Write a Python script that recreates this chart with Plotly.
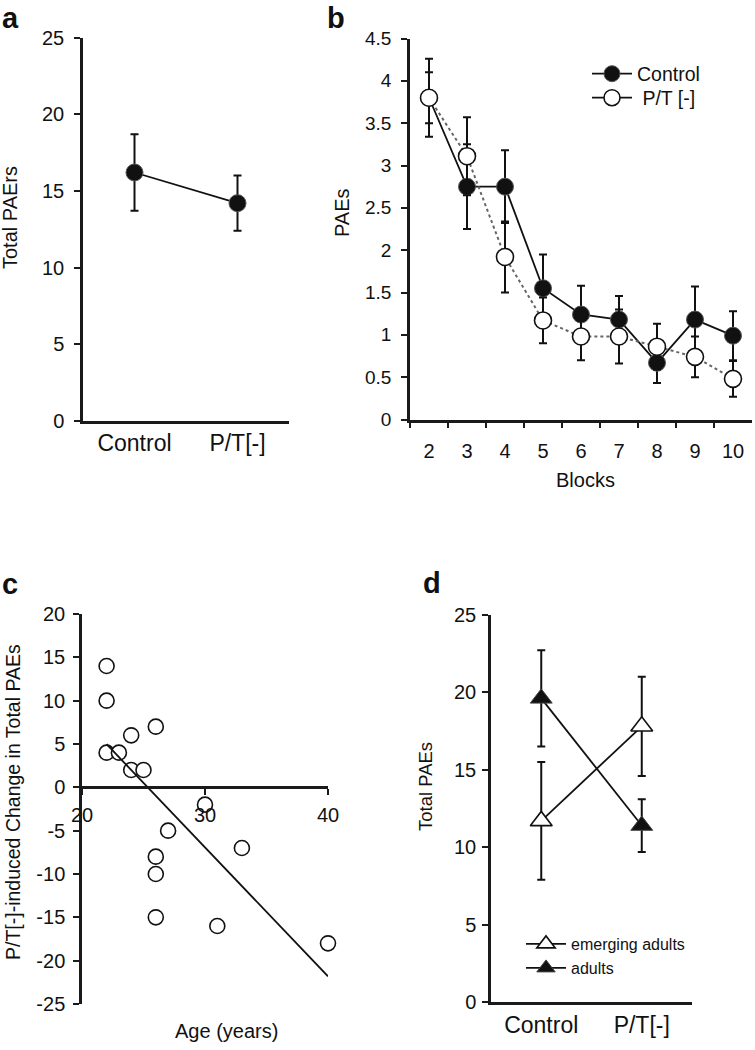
import numpy as np
import plotly.graph_objects as go

W, H = 755, 1050
FONT = "Liberation Sans, Arial, sans-serif"

# ---------------- data ----------------
# panel a
a_groups = ["Control", "P/T[-]"]
a_means = [16.2, 14.2]
a_err = [2.5, 1.8]

# panel b
blocks = ["2", "3", "4", "5", "6", "7", "8", "9", "10"]
b_control = [3.8, 2.75, 2.75, 1.55, 1.24, 1.18, 0.67, 1.18, 0.99]
b_control_err = [0.46, 0.5, 0.43, 0.4, 0.34, 0.28, 0.24, 0.39, 0.29]
b_pt = [3.8, 3.11, 1.92, 1.17, 0.98, 0.98, 0.86, 0.74, 0.48]
b_pt_err = [0.3, 0.46, 0.42, 0.27, 0.28, 0.32, 0.27, 0.24, 0.21]

# panel c
c_age = [22, 22, 22, 23, 24, 24, 25, 26, 30, 27, 26, 26, 26, 33, 31, 40]
c_change = [14, 10, 4, 4, 6, 2, 2, 7, -2, -5, -8, -10, -15, -7, -16, -18]
c_yticks = [-25, -20, -15, -10, -5, 0, 5, 10, 15, 20]
c_xticks = [20, 30, 40]

# panel d
d_groups = ["Control", "P/T[-]"]
d_emerging = [11.7, 17.8]
d_emerging_err = [3.8, 3.2]
d_adults = [19.6, 11.4]
d_adults_err = [3.1, 1.7]

# ---------------- layout helpers ----------------
def fx(p):
    return p / W

def fy(p):
    return 1 - p / H

def dom_x(l, r):
    return [fx(l), fx(r)]

def dom_y(top, bottom):
    return [fy(bottom), fy(top)]

AX = dict(showline=True, linecolor="#1a1a1a", linewidth=2.5, ticks="outside",
          ticklen=6, tickwidth=2, tickcolor="#1a1a1a", showgrid=False,
          zeroline=False, automargin=False,
          tickfont=dict(family=FONT, size=20, color="#111"))

fig = go.Figure()

ERR = dict(type="data", thickness=2, width=4, color="#111")

# panel a
fig.add_trace(go.Scatter(
    x=a_groups, y=a_means, mode="lines+markers", xaxis="x", yaxis="y",
    line=dict(color="#111", width=1.8),
    marker=dict(size=17, color="#111", line=dict(color="#555", width=1)),
    error_y=dict(array=a_err, **ERR), showlegend=False))

# panel b
fig.add_trace(go.Scatter(
    x=blocks, y=b_control, mode="lines+markers", xaxis="x2", yaxis="y2",
    name="Control", legend="legend",
    line=dict(color="#111", width=1.8),
    marker=dict(size=17, color="#111", line=dict(color="#555", width=1)),
    error_y=dict(array=b_control_err, **ERR)))
fig.add_trace(go.Scatter(
    x=blocks, y=b_pt, mode="lines+markers", xaxis="x2", yaxis="y2",
    name="\u00a0P/T [-]", showlegend=False,
    line=dict(color="#666", width=2, dash="dot"),
    marker=dict(size=17, color="white", line=dict(color="#111", width=1.6)),
    error_y=dict(array=b_pt_err, **ERR)))
fig.add_trace(go.Scatter(
    x=[None], y=[None], mode="lines+markers", xaxis="x2", yaxis="y2",
    name="\u00a0P/T [-]", legend="legend3",
    line=dict(color="#111", width=1.8),
    marker=dict(size=17, color="white", line=dict(color="#111", width=1.6))))

# panel c
fig.add_trace(go.Scatter(
    x=c_age, y=c_change, mode="markers", xaxis="x3", yaxis="y3",
    cliponaxis=False,
    marker=dict(size=15, color="white", line=dict(color="#111", width=1.6)),
    showlegend=False))
slope, intercept = np.polyfit(c_age, c_change, 1)
fit_x = np.array([min(c_age), max(c_age)])
fig.add_trace(go.Scatter(
    x=fit_x, y=slope * fit_x + intercept, mode="lines", xaxis="x3", yaxis="y3",
    line=dict(color="#111", width=1.8), showlegend=False))

# panel d
fig.add_trace(go.Scatter(
    x=d_groups, y=d_emerging, mode="lines+markers", xaxis="x4", yaxis="y4",
    name="emerging adults", legend="legend2",
    line=dict(color="#111", width=1.8),
    marker=dict(symbol="triangle-up", size=19, color="white",
                line=dict(color="#111", width=1.6)),
    error_y=dict(array=d_emerging_err, **ERR)))
fig.add_trace(go.Scatter(
    x=d_groups, y=d_adults, mode="lines+markers", xaxis="x4", yaxis="y4",
    name="adults", legend="legend4",
    line=dict(color="#111", width=1.8),
    marker=dict(symbol="triangle-up", size=19, color="#111",
                line=dict(color="#444", width=1)),
    error_y=dict(array=d_adults_err, **ERR)))

# domains
a_x, a_y = dom_x(83, 289), dom_y(37.5, 421)
b_x, b_y = dom_x(410, 752), dom_y(38.5, 419.5)
c_x, c_y = dom_x(82, 328), dom_y(614, 1004)
d_x, d_y = dom_x(491, 692), dom_y(614.6, 1002.4)

c_yrange = [-25, 20]
c_xpos = c_y[0] + (0 - c_yrange[0]) / (c_yrange[1] - c_yrange[0]) * (c_y[1] - c_y[0])

cat_font = dict(family=FONT, size=23, color="#111")


def leg(xp, yp, size):
    return dict(x=fx(xp), y=fy(yp), xanchor="left", yanchor="middle",
                bgcolor="rgba(0,0,0,0)", itemwidth=40,
                font=dict(family=FONT, size=size, color="#111"))


fig.update_layout(
    width=W, height=H, margin=dict(l=0, r=0, t=0, b=0),
    paper_bgcolor="white", plot_bgcolor="white",
    font=dict(family=FONT, color="#111"),
    xaxis=dict(AX, domain=a_x, anchor="y", type="category",
               range=[-0.5, 1.5], ticks="", tickfont=cat_font),
    yaxis=dict(AX, domain=a_y, anchor="x", range=[0, 25], dtick=5,
               ticklabelstandoff=6),
    xaxis2=dict(AX, domain=b_x, anchor="y2", type="category",
                range=[-0.5, 8.5], tickson="boundaries", ticklabelstandoff=12),
    yaxis2=dict(AX, domain=b_y, anchor="x2", range=[0, 4.5], dtick=0.5,
                ticklabelstandoff=6,
                tickfont=dict(family=FONT, size=19, color="#111")),
    xaxis3=dict(AX, domain=c_x, anchor="free", position=c_xpos,
                range=[20, 40], tickvals=c_xticks,
                ticktext=[str(v) for v in c_xticks], ticklabelstandoff=3),
    yaxis3=dict(AX, domain=c_y, anchor="x3", range=c_yrange,
                tickvals=c_yticks, ticktext=[str(v) for v in c_yticks],
                ticklabelstandoff=4),
    xaxis4=dict(AX, domain=d_x, anchor="y4", type="category",
                range=[-0.5, 1.5], ticks="", tickfont=cat_font),
    yaxis4=dict(AX, domain=d_y, anchor="x4", range=[0, 25], dtick=5,
                ticklabelstandoff=2),
    legend=leg(587, 74, 19.5),
    legend3=leg(587, 98, 19.5),
    legend2=leg(521, 944, 16),
    legend4=leg(521, 968, 16),
)

annotations = [
    dict(text="<b>a</b>", x=fx(0), y=fy(18), xanchor="left", size=29),
    dict(text="<b>b</b>", x=fx(325), y=fy(18), xanchor="left", size=29),
    dict(text="<b>c</b>", x=fx(0), y=fy(584), xanchor="left", size=29),
    dict(text="<b>d</b>", x=fx(421), y=fy(583), xanchor="left", size=29),
    dict(text="Total PAErs", x=fx(10), y=fy(218), size=20, textangle=-90),
    dict(text="PAEs", x=fx(342), y=fy(213), size=20, textangle=-90),
    dict(text="Blocks", x=fx(585), y=fy(480), size=20),
    dict(text="P/T[-]-induced Change in Total PAEs", x=fx(13), y=fy(802), size=19.5, textangle=-90),
    dict(text="Age (years)", x=fx(226), y=fy(1031), size=20),
    dict(text="Total PAEs", x=fx(425), y=fy(787), size=18.5, textangle=-90),
]
for an in annotations:
    fig.add_annotation(
        text=an["text"], x=an["x"], y=an["y"], xref="paper", yref="paper",
        xanchor=an.get("xanchor", "center"), yanchor="middle",
        textangle=an.get("textangle", 0), showarrow=False,
        font=dict(family=FONT, size=an["size"], color="#111"))

fig.write_html(
    "out.html",
    config={"displayModeBar": False},
    post_script="document.body.style.margin='0';document.body.style.overflow='hidden';",
)
